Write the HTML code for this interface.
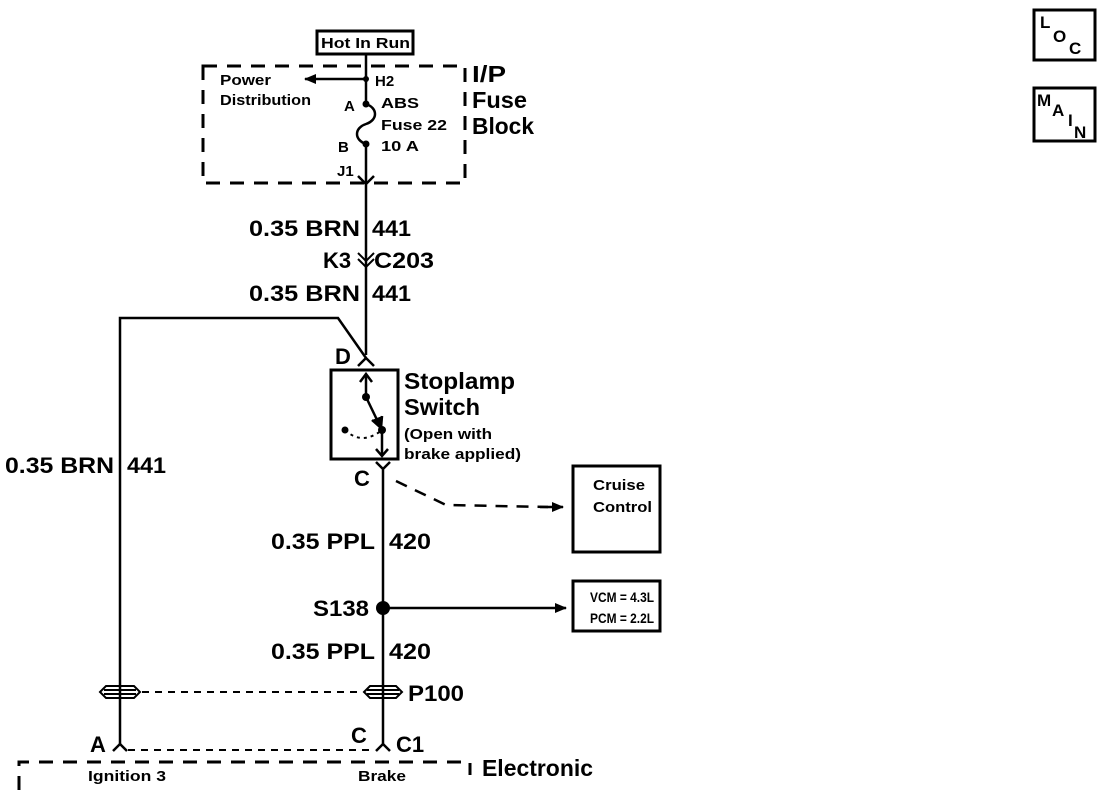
<!DOCTYPE html>
<html><head><style>
html,body{margin:0;padding:0;background:#fff;}
svg{display:block;}
text{font-family:"Liberation Sans",Arial,sans-serif;fill:#000;font-weight:bold;}
</style></head><body>
<svg width="1120" height="790" viewBox="0 0 1120 790" xmlns="http://www.w3.org/2000/svg">
<defs>
<marker id="ar" markerWidth="12" markerHeight="10" refX="11" refY="5" orient="auto" markerUnits="userSpaceOnUse">
<path d="M0,0 L12,5 L0,10 Z" fill="#000"/></marker>
</defs>
<g stroke="#000" fill="none" stroke-width="2.5">
<rect x="317" y="31" width="96" height="23" stroke-width="3"/>
<rect x="203" y="66" width="262" height="117" stroke-dasharray="14,10" stroke-width="3"/>
<line x1="366" y1="54" x2="366" y2="104"/>
<line x1="366" y1="79" x2="305" y2="79" marker-end="url(#ar)"/>
<path d="M366,104 C378,108 378,120 366,124 C354,128 354,140 366,144"/>
<line x1="366" y1="144" x2="366" y2="355"/>
<path d="M358,176 L366,184 L374,176"/>
<path d="M358,253 L366,261 L374,253 M358,259 L366,267 L374,259" stroke-width="2"/>
<polyline points="120,745 120,318 338,318 366,358"/>
<path d="M358,366 L366,358 L374,366"/>
<rect x="331" y="370" width="67" height="89" stroke-width="3"/>
<line x1="366" y1="397" x2="366" y2="376"/>
<path d="M360,382 L366,374 L372,382"/>
<line x1="366" y1="397" x2="379" y2="424"/>
<path d="M372,420 L381,428 L382,416" fill="#000"/>
<path d="M345,430 Q362,446 382,430" stroke-dasharray="3,4" stroke-width="2"/>
<line x1="382" y1="430" x2="382" y2="455"/>
<path d="M376,449 L382,456 L388,449"/>
<path d="M376,462 L383,469 L390,462 M383,469 L383,745"/>
<path d="M396,481 L446,505 L548,507" stroke-dasharray="12,9"/>
<line x1="540" y1="507" x2="563" y2="507" marker-end="url(#ar)"/>
<rect x="573" y="466" width="87" height="86" stroke-width="3"/>
<line x1="383" y1="608" x2="566" y2="608" marker-end="url(#ar)"/>
<rect x="573" y="581" width="87" height="50" stroke-width="3"/>
<path d="M100,692 L106,686 L134,686 L140,692 L134,698 L106,698 Z" stroke-width="2"/>
<line x1="104" y1="690" x2="136" y2="690" stroke-width="2"/>
<line x1="104" y1="694" x2="136" y2="694" stroke-width="2"/>
<path d="M364,692 L370,686 L396,686 L402,692 L396,698 L370,698 Z" stroke-width="2"/>
<line x1="367" y1="690" x2="399" y2="690" stroke-width="2"/>
<line x1="367" y1="694" x2="399" y2="694" stroke-width="2"/>
<line x1="142" y1="692" x2="362" y2="692" stroke-dasharray="7,6" stroke-width="2"/>
<path d="M113,751 L120,744 L127,751 M376,751 L383,744 L390,751"/>
<line x1="128" y1="750" x2="375" y2="750" stroke-dasharray="7,6" stroke-width="2"/>
<path d="M19,790 L19,762 L470,762 L470,775" stroke-dasharray="14,10" stroke-width="3"/>
<rect x="1034" y="10" width="61" height="50" stroke-width="3"/>
<rect x="1034" y="88" width="61" height="53" stroke-width="3"/>
</g>
<circle cx="366" cy="79" r="3"/>
<circle cx="366" cy="104" r="3.5"/>
<circle cx="366" cy="144" r="3.5"/>
<circle cx="366" cy="397" r="4"/>
<circle cx="382" cy="430" r="4"/>
<circle cx="345" cy="430" r="3.5"/>
<circle cx="383" cy="608" r="7"/>
<g font-size="15">
<text x="321" y="48" textLength="89" lengthAdjust="spacingAndGlyphs">Hot In Run</text>
<text x="220" y="85" textLength="51" lengthAdjust="spacingAndGlyphs">Power</text>
<text x="220" y="105" textLength="91" lengthAdjust="spacingAndGlyphs">Distribution</text>
<text x="375" y="86">H2</text>
<text x="344" y="111">A</text>
<text x="381" y="108" textLength="38" lengthAdjust="spacingAndGlyphs">ABS</text>
<text x="381" y="130" textLength="66" lengthAdjust="spacingAndGlyphs">Fuse 22</text>
<text x="381" y="151" textLength="38" lengthAdjust="spacingAndGlyphs">10 A</text>
<text x="338" y="152">B</text>
<text x="337" y="176">J1</text>
<text x="593" y="490" textLength="52" lengthAdjust="spacingAndGlyphs">Cruise</text>
<text x="593" y="512" textLength="59" lengthAdjust="spacingAndGlyphs">Control</text>
<text x="590" y="602" textLength="64" lengthAdjust="spacingAndGlyphs" font-size="14">VCM = 4.3L</text>
<text x="590" y="623" textLength="64" lengthAdjust="spacingAndGlyphs" font-size="14">PCM = 2.2L</text>
<text x="88" y="781" textLength="78" lengthAdjust="spacingAndGlyphs">Ignition 3</text>
<text x="358" y="781" textLength="48" lengthAdjust="spacingAndGlyphs">Brake</text>
<text x="404" y="439" textLength="88" lengthAdjust="spacingAndGlyphs">(Open with</text>
<text x="404" y="459" textLength="117" lengthAdjust="spacingAndGlyphs">brake applied)</text>
</g>
<g font-size="23">
<text x="472" y="82" textLength="34" lengthAdjust="spacingAndGlyphs">I/P</text>
<text x="472" y="108" textLength="55" lengthAdjust="spacingAndGlyphs">Fuse</text>
<text x="472" y="134" textLength="62" lengthAdjust="spacingAndGlyphs">Block</text>
<text x="404" y="389" textLength="111" lengthAdjust="spacingAndGlyphs">Stoplamp</text>
<text x="404" y="415" textLength="76" lengthAdjust="spacingAndGlyphs">Switch</text>
<text x="482" y="776" textLength="111" lengthAdjust="spacingAndGlyphs">Electronic</text>
</g>
<g font-size="22">
<text x="249" y="236" textLength="111" lengthAdjust="spacingAndGlyphs">0.35 BRN</text><text x="372" y="236" textLength="39" lengthAdjust="spacingAndGlyphs">441</text>
<text x="323" y="268">K3</text><text x="374" y="268" textLength="60" lengthAdjust="spacingAndGlyphs">C203</text>
<text x="249" y="301" textLength="111" lengthAdjust="spacingAndGlyphs">0.35 BRN</text><text x="372" y="301" textLength="39" lengthAdjust="spacingAndGlyphs">441</text>
<text x="335" y="364">D</text>
<text x="354" y="486">C</text>
<text x="5" y="473" textLength="109" lengthAdjust="spacingAndGlyphs">0.35 BRN</text><text x="127" y="473" textLength="39" lengthAdjust="spacingAndGlyphs">441</text>
<text x="271" y="549" textLength="104" lengthAdjust="spacingAndGlyphs">0.35 PPL</text><text x="389" y="549" textLength="42" lengthAdjust="spacingAndGlyphs">420</text>
<text x="313" y="616" textLength="56" lengthAdjust="spacingAndGlyphs">S138</text>
<text x="271" y="659" textLength="104" lengthAdjust="spacingAndGlyphs">0.35 PPL</text><text x="389" y="659" textLength="42" lengthAdjust="spacingAndGlyphs">420</text>
<text x="408" y="701" textLength="56" lengthAdjust="spacingAndGlyphs">P100</text>
<text x="90" y="752">A</text>
<text x="351" y="743">C</text>
<text x="396" y="752">C1</text>
</g>
<g font-size="17">
<text x="1040" y="28">L</text><text x="1053" y="42">O</text><text x="1069" y="54">C</text>
<text x="1037" y="106">M</text><text x="1052" y="116">A</text><text x="1068" y="126">I</text><text x="1074" y="138">N</text>
</g>
</svg>
</body></html>
